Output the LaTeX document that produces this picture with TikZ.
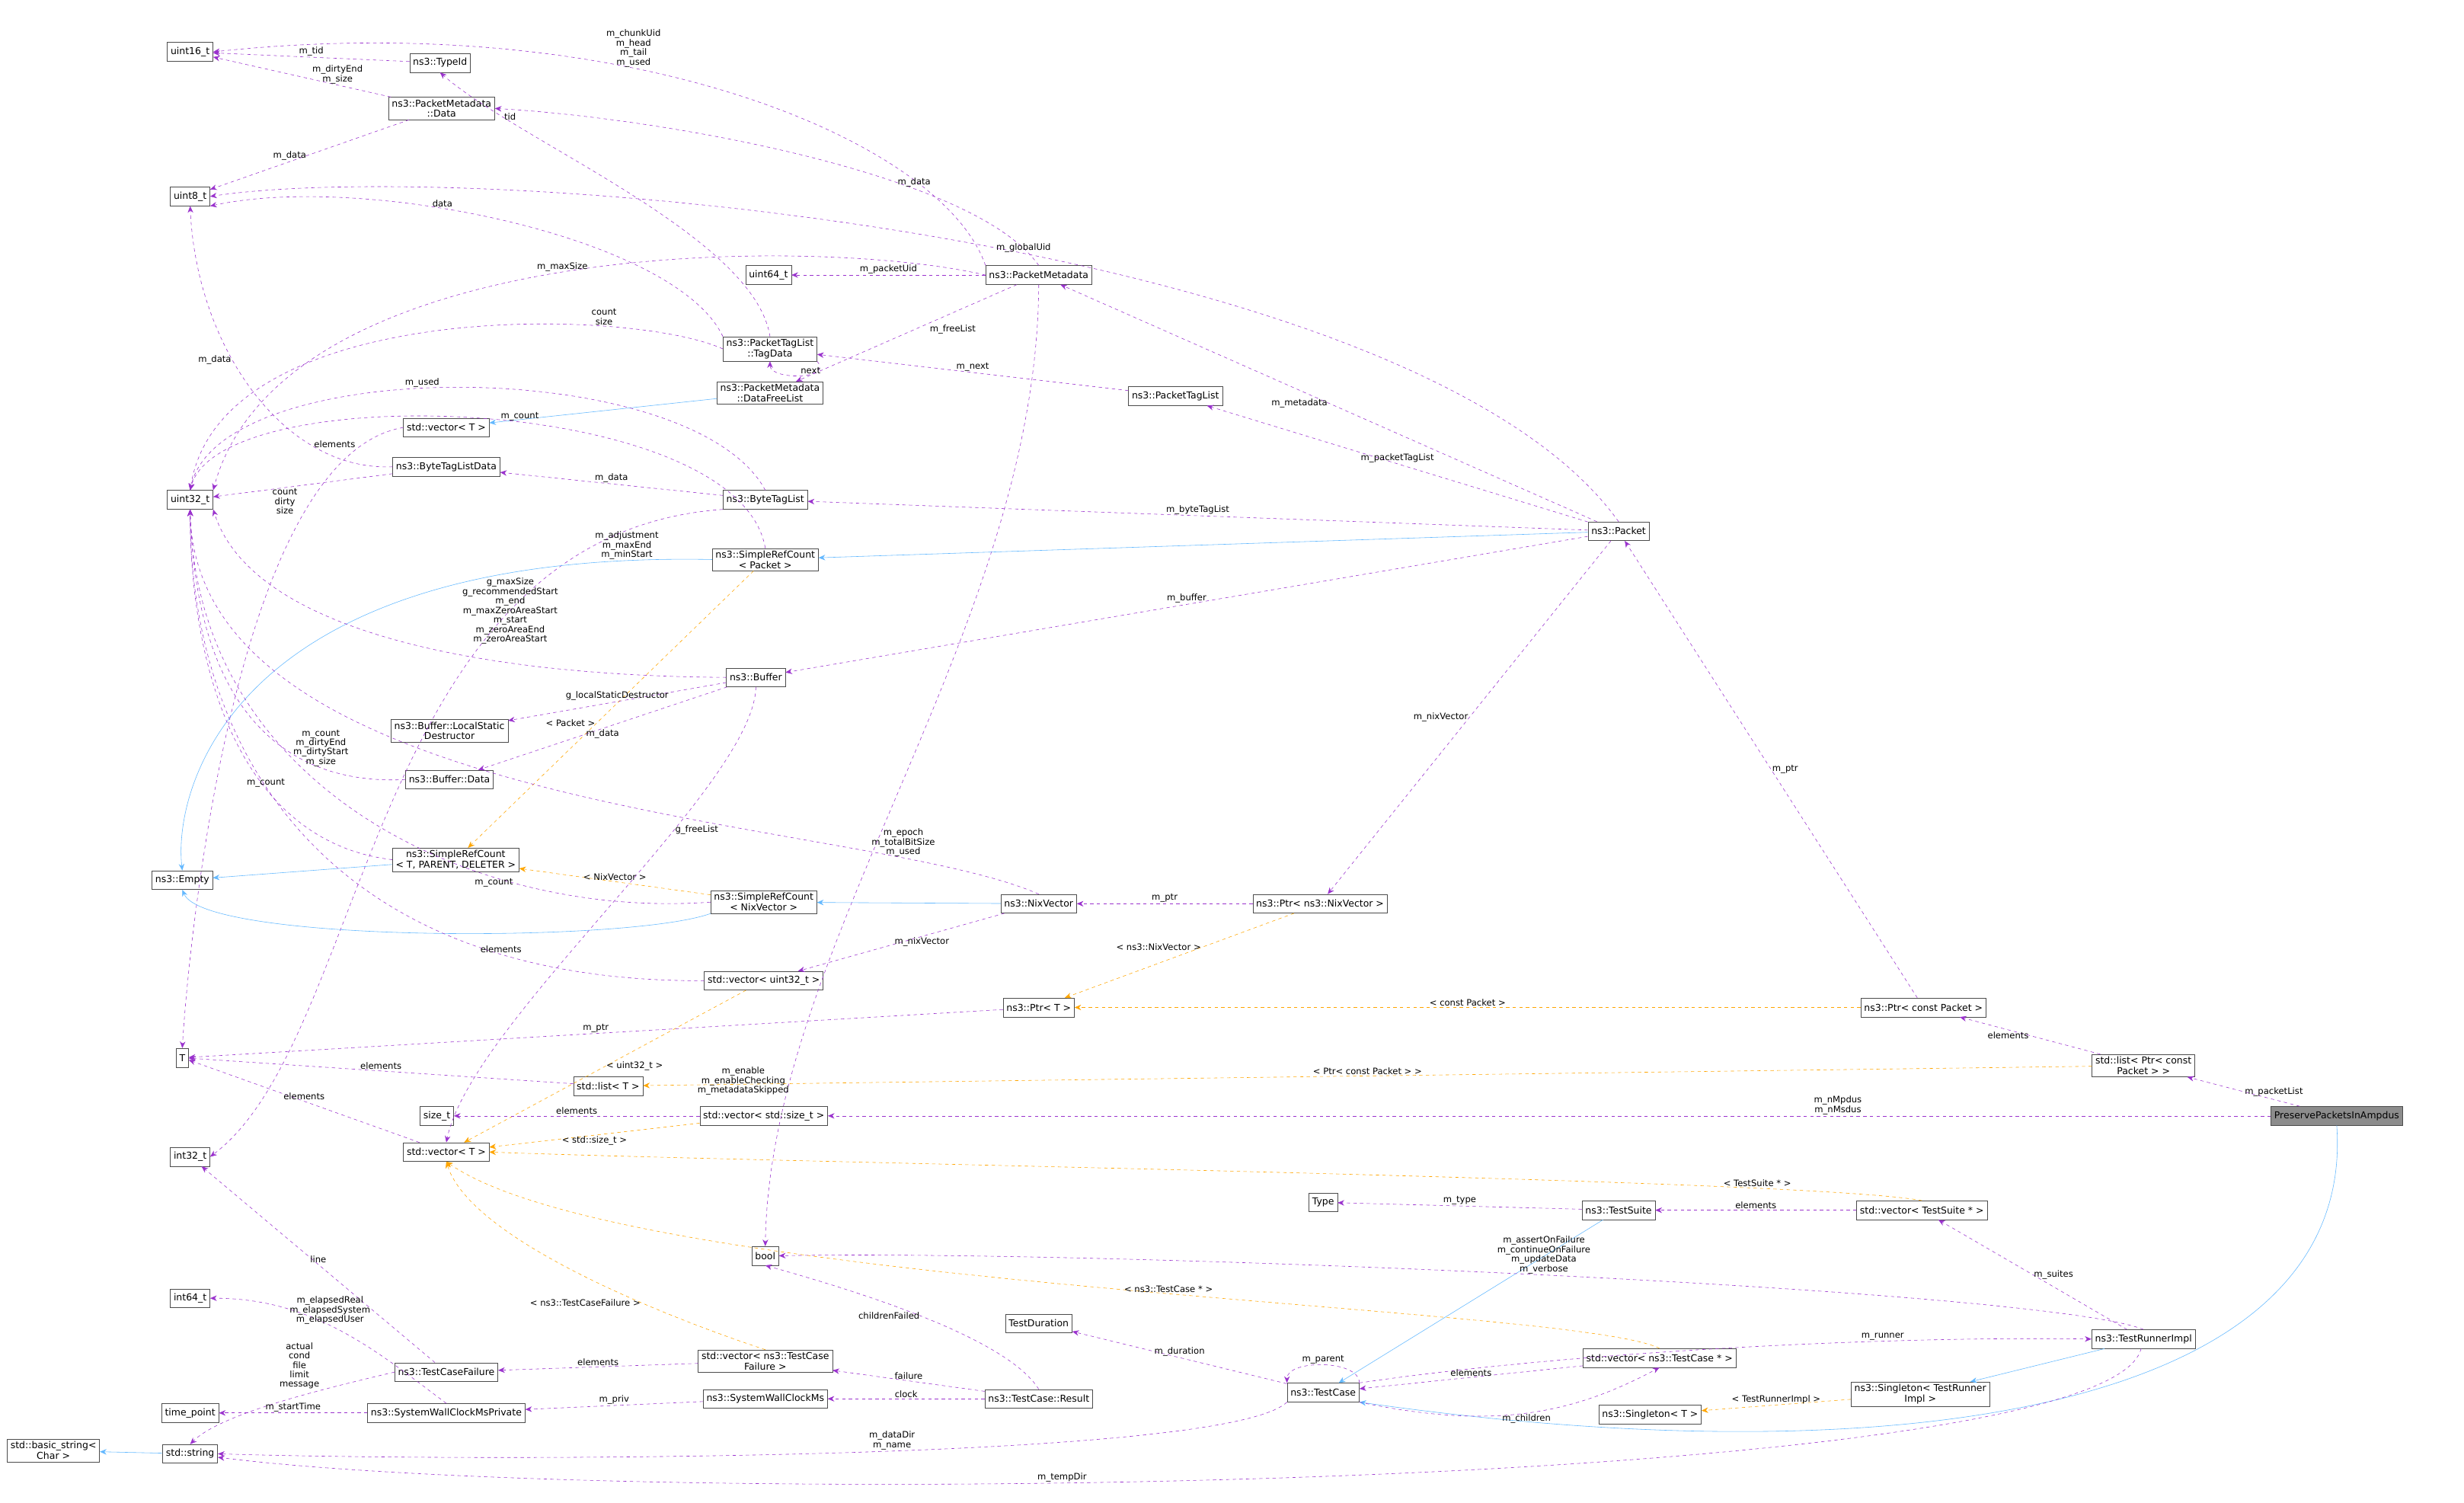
\documentclass[tikz,border=0pt]{standalone}
\usepackage{fontspec}
\setmainfont{DejaVu Sans}
\usetikzlibrary{arrows.meta}
\definecolor{pu}{HTML}{9A32CD}
\definecolor{bl}{HTML}{63B8FF}
\definecolor{og}{HTML}{FFA500}
\tikzset{
 bx/.style={draw=black!70,fill=white,font=\fontsize{8.6}{9.6}\selectfont,inner xsep=3pt,inner ysep=2pt,minimum height=17,align=center},
 mem/.style={pu,dashed,-{Stealth[length=6pt,width=5pt]}},
 inh/.style={bl,-{Stealth[length=6pt,width=5pt]}},
 tpl/.style={og,dashed,-{Stealth[length=6pt,width=5pt]}},
 lb/.style={black,font=\fontsize{8}{8.6}\selectfont,align=center,fill=none,inner sep=1pt}
}
\begin{document}
\begin{tikzpicture}[x=0.05cm,y=-0.05cm]
\useasboundingbox (0,0) rectangle (1568,956);
\node[bx] (u16) at (121,33) {uint16\_t};
\node[bx] (tid) at (280,40) {ns3::TypeId};
\node[bx] (pmd) at (281,69) {ns3::PacketMetadata\\::Data};
\node[bx] (u8) at (121,125) {uint8\_t};
\node[bx] (u64) at (489,175) {uint64\_t};
\node[bx] (pm) at (661,175) {ns3::PacketMetadata};
\node[bx] (tag) at (490,222) {ns3::PacketTagList\\::TagData};
\node[bx] (dfl) at (490,250) {ns3::PacketMetadata\\::DataFreeList};
\node[bx] (ptl) at (748,252) {ns3::PacketTagList};
\node[bx] (vT1) at (284,272) {std::vector< T >};
\node[bx] (btld) at (284,297) {ns3::ByteTagListData};
\node[bx] (u32) at (121,318) {uint32\_t};
\node[bx] (btl) at (487,318) {ns3::ByteTagList};
\node[bx] (pk) at (1030,338) {ns3::Packet};
\node[bx] (srp) at (487,356) {ns3::SimpleRefCount\\< Packet >};
\node[bx] (buf) at (481,431) {ns3::Buffer};
\node[bx] (lsd) at (286,465) {ns3::Buffer::LocalStatic\\Destructor};
\node[bx] (bd) at (286,496) {ns3::Buffer::Data};
\node[bx] (src) at (290,547) {ns3::SimpleRefCount\\< T, PARENT, DELETER >};
\node[bx] (emp) at (116,560) {ns3::Empty};
\node[bx] (srn) at (486,574) {ns3::SimpleRefCount\\< NixVector >};
\node[bx] (nix) at (661,575) {ns3::NixVector};
\node[bx] (pnix) at (840,575) {ns3::Ptr< ns3::NixVector >};
\node[bx] (vu32) at (486,624) {std::vector< uint32\_t >};
\node[bx] (ptrT) at (661,641) {ns3::Ptr< T >};
\node[bx] (pcp) at (1224,641) {ns3::Ptr< const Packet >};
\node[bx] (T) at (116,673) {T};
\node[bx] (lT) at (387,691) {std::list< T >};
\node[bx] (lpc) at (1364,678) {std::list< Ptr< const\\Packet > >};
\node[bx,fill=black!45] (pre) at (1487,710) {PreservePacketsInAmpdus};
\node[bx] (szt) at (278,710) {size\_t};
\node[bx] (vsz) at (486,710) {std::vector< std::size\_t >};
\node[bx] (i32) at (121,736) {int32\_t};
\node[bx] (vT) at (284,733) {std::vector< T >};
\node[bx] (typ) at (842,765) {Type};
\node[bx] (ts) at (1030,770) {ns3::TestSuite};
\node[bx] (vts) at (1223,770) {std::vector< TestSuite * >};
\node[bx] (bool) at (487,799) {bool};
\node[bx] (i64) at (121,826) {int64\_t};
\node[bx] (tdur) at (661,842) {TestDuration};
\node[bx] (tri) at (1364,852) {ns3::TestRunnerImpl};
\node[bx] (vtcf) at (487,866) {std::vector< ns3::TestCase\\Failure >};
\node[bx] (tcf) at (284,873) {ns3::TestCaseFailure};
\node[bx] (vtc) at (1056,864) {std::vector< ns3::TestCase * >};
\node[bx] (tc) at (842,886) {ns3::TestCase};
\node[bx] (sgt) at (1222,887) {ns3::Singleton< TestRunner\\Impl >};
\node[bx] (tp) at (121,899) {time\_point};
\node[bx] (swp) at (284,899) {ns3::SystemWallClockMsPrivate};
\node[bx] (swc) at (487,890) {ns3::SystemWallClockMs};
\node[bx] (res) at (661,890) {ns3::TestCase::Result};
\node[bx] (sgT) at (1050,900) {ns3::Singleton< T >};
\node[bx] (bs) at (34,923) {std::basic\_string<\\Char >};
\node[bx] (str) at (121,925) {std::string};

\draw[mem] (tid) -- node[lb,above]{m\_tid} (u16);
\draw[mem] (pmd) -- node[lb,above,pos=0.3]{m\_dirtyEnd\\m\_size} (u16);
\draw[mem] (pmd) -- node[lb,above,pos=0.6]{m\_data} (u8);
\draw[mem] (pm.north west) .. controls (600,90) and (400,5) .. node[lb,pos=0.62,above]{m\_chunkUid\\m\_head\\m\_tail\\m\_used} (u16.east);
\draw[mem] (pm.north) .. controls (620,110) and (420,75) .. node[lb,pos=0.35,right]{m\_data} (pmd.east);
\draw[mem] (pm) -- node[lb,above]{m\_packetUid} (u64);
\draw[mem] (pm) -- node[lb,pos=0.4,below right]{m\_freeList} (dfl);
\draw[mem] (pm.west) .. controls (520,150) and (180,150) .. node[lb,pos=0.5,above]{m\_maxSize} (u32.north east);
\draw[mem] (pm.south) .. controls (660,400) and (490,600) .. node[lb,pos=0.82,left]{m\_enable\\m\_enableChecking\\m\_metadataSkipped} (bool.north);
\draw[mem] (pk.north) .. controls (900,150) and (300,100) .. node[lb,pos=0.45,above]{m\_globalUid} (u8.east);
\draw[mem] (tag.north west) .. controls (430,150) and (230,110) .. node[lb,pos=0.6,above]{data} (u8.south east);
\draw[mem] (tag.west) .. controls (400,195) and (140,190) .. node[lb,pos=0.25,above]{count\\size} (u32.north);
\draw[mem] (tag.north) .. controls (480,150) and (330,90) .. node[lb,pos=0.8,right]{tid} (tid.south);
\draw[mem] (tag.south east) .. controls +(10,12) and +(0,12) .. node[lb,pos=0.5,above right]{next} (tag.south);
\draw[mem] (ptl) -- node[lb,above]{m\_next} (tag);
\draw[inh] (dfl) -- (vT1);
\draw[mem] (btl.north) .. controls (440,225) and (140,225) .. node[lb,pos=0.55,above]{m\_used} (u32.north);
\draw[mem] (btl) -- node[lb,above]{m\_data} (btld);
\draw[mem] (btld.west) .. controls (180,300) and (125,220) .. node[lb,pos=0.6,left]{m\_data} (u8.south);
\draw[mem] (btld) -- node[lb,pos=0.6,below]{count\\dirty\\size} (u32);
\draw[mem] (vT1.west) .. controls (150,290) and (120,600) .. node[lb,pos=0.1,above left]{elements} (T.north);
\draw[mem] (btl.south west) .. controls (235,340) and (235,660) .. node[lb,pos=0.1,below]{m\_adjustment\\m\_maxEnd\\m\_minStart} (i32.east);
\draw[mem] (srp.north) .. controls (470,250) and (140,240) .. node[lb,pos=0.45,above]{m\_count} (u32.north);
\draw[inh] (srp.west) .. controls (150,350) and (110,500) .. (emp.north);
\draw[tpl] (srp) -- node[lb,pos=0.55,left]{< Packet >} (src);
\draw[inh] (pk) -- (srp);
\draw[mem] (pk) -- node[lb,pos=0.5,left]{m\_metadata} (pm);
\draw[mem] (pk) -- node[lb,above]{m\_packetTagList} (ptl);
\draw[mem] (pk) -- node[lb,above]{m\_byteTagList} (btl);
\draw[mem] (pk) -- node[lb,above]{m\_buffer} (buf);
\draw[mem] (pk) -- node[lb,left]{m\_nixVector} (pnix);
\draw[mem] (buf.west) .. controls (300,430) and (160,400) .. node[lb,pos=0.3,above=16]{g\_maxSize\\g\_recommendedStart\\m\_end\\m\_maxZeroAreaStart\\m\_start\\m\_zeroAreaEnd\\m\_zeroAreaStart} (u32.south east);
\draw[mem] (buf) -- node[lb,above]{g\_localStaticDestructor} (lsd);
\draw[mem] (buf) -- node[lb,below]{m\_data} (bd);
\draw[mem] (buf.south) .. controls (480,500) and (300,650) .. node[lb,pos=0.35,right]{g\_freeList} (vT.north);
\draw[mem] (bd.west) .. controls (180,500) and (125,450) .. node[lb,pos=0.25,above]{m\_count\\m\_dirtyEnd\\m\_dirtyStart\\m\_size} (u32.south);
\draw[mem] (src.west) .. controls (150,535) and (121,420) .. node[lb,pos=0.35,above]{m\_count} (u32.south);
\draw[inh] (src) -- (emp);
\draw[mem] (srn.west) .. controls (300,585) and (125,500) .. node[lb,pos=0.3,below]{m\_count} (u32.south);
\draw[inh] (srn.south west) .. controls (400,600) and (130,600) .. (emp.south);
\draw[tpl] (srn) -- node[lb,above]{< NixVector >} (src);
\draw[inh] (nix) -- (srn);
\draw[mem] (nix.north) .. controls (550,520) and (125,520) .. node[lb,pos=0.18,above]{m\_epoch\\m\_totalBitSize\\m\_used} (u32.south);
\draw[mem] (nix) -- node[lb,pos=0.4,below]{m\_nixVector} (vu32);
\draw[mem] (pnix) -- node[lb,above]{m\_ptr} (nix);
\draw[tpl] (pnix) -- node[lb,pos=0.4,left]{< ns3::NixVector >} (ptrT);
\draw[mem] (vu32.west) .. controls (200,625) and (121,470) .. node[lb,pos=0.2,above]{elements} (u32.south);
\draw[tpl] (vu32) -- node[lb,pos=0.5,right]{< uint32\_t >} (vT);
\draw[mem] (ptrT) -- node[lb,pos=0.5,above]{m\_ptr} (T);
\draw[mem] (pcp) -- node[lb,right]{m\_ptr} (pk);
\draw[tpl] (pcp) -- node[lb,above]{< const Packet >} (ptrT);
\draw[mem] (lpc) -- node[lb,left]{elements} (pcp);
\draw[tpl] (lpc) -- node[lb,above]{< Ptr< const Packet > >} (lT);
\draw[mem] (lT) -- node[lb,above]{elements} (T);
\draw[mem] (pre) -- node[lb,right]{m\_packetList} (lpc);
\draw[mem] (pre) -- node[lb,pos=0.3,above]{m\_nMpdus\\m\_nMsdus} (vsz);
\draw[inh] (pre.south) .. controls (1500,900) and (1200,940) .. (tc.south east);
\draw[mem] (vsz) -- node[lb,above]{elements} (szt);
\draw[tpl] (vsz) -- node[lb,below]{< std::size\_t >} (vT);
\draw[mem] (vT) -- node[lb,above]{elements} (T);
\draw[tpl] (vts.north) .. controls (1150,750) and (500,740) .. node[lb,pos=0.2,above]{< TestSuite * >} (vT.east);
\draw[mem] (vts) -- node[lb,above]{elements} (ts);
\draw[mem] (ts) -- node[lb,above]{m\_type} (typ);
\draw[inh] (ts) -- (tc);
\draw[mem] (tri) -- node[lb,right]{m\_suites} (vts);
\draw[mem] (tri.north) .. controls (1300,820) and (700,795) .. node[lb,pos=0.5,above]{m\_assertOnFailure\\m\_continueOnFailure\\m\_updateData\\m\_verbose} (bool.east);
\draw[inh] (tri) -- (sgt);
\draw[mem] (tri) .. controls (1340,950) and (400,960) .. node[lb,pos=0.6,above]{m\_tempDir} (str);
\draw[tpl] (sgt) -- node[lb,above]{< TestRunnerImpl >} (sgT);
\draw[mem] (tc.north east) .. controls (1000,860) and (1200,850) .. node[lb,pos=0.7,above]{m\_runner} (tri.west);
\draw[mem] (tc.north east) .. controls +(0,-15) and +(0,-15) .. node[lb,above]{m\_parent} (tc.north west);
\draw[mem] (tc) -- node[lb,above]{m\_duration} (tdur);
\draw[mem] (tc.south east) .. controls (950,910) and (1000,900) .. node[lb,below]{m\_children} (vtc.south);
\draw[mem] (vtc) -- node[lb,above]{elements} (tc);
\draw[tpl] (vtc.north) .. controls (1000,830) and (400,820) .. node[lb,pos=0.45,above]{< ns3::TestCase * >} (vT.south);
\draw[mem] (tc.south west) .. controls (780,930) and (300,930) .. node[lb,pos=0.45,above]{m\_dataDir\\m\_name} (str.east);
\draw[mem] (res.north) .. controls (640,850) and (540,820) .. node[lb,pos=0.5,left]{childrenFailed} (bool.south);
\draw[mem] (res) -- node[lb,above]{failure} (vtcf);
\draw[mem] (res) -- node[lb,above]{clock} (swc);
\draw[mem] (vtcf) -- node[lb,above]{elements} (tcf);
\draw[tpl] (vtcf.north) .. controls (430,840) and (300,790) .. node[lb,pos=0.35,left]{< ns3::TestCaseFailure >} (vT.south);
\draw[mem] (tcf) -- node[lb,above]{line} (i32);
\draw[mem] (tcf.west) .. controls (200,885) and (140,900) .. node[lb,pos=0.3,above left]{actual\\cond\\file\\limit\\message} (str.north);
\draw[mem] (swc) -- node[lb,above]{m\_priv} (swp);
\draw[mem] (swp.north) .. controls (240,860) and (200,826) .. node[lb,pos=0.55,above]{m\_elapsedReal\\m\_elapsedSystem\\m\_elapsedUser} (i64.east);
\draw[mem] (swp) -- node[lb,above]{m\_startTime} (tp);
\draw[inh] (str) -- (bs);
\end{tikzpicture}
\end{document}
